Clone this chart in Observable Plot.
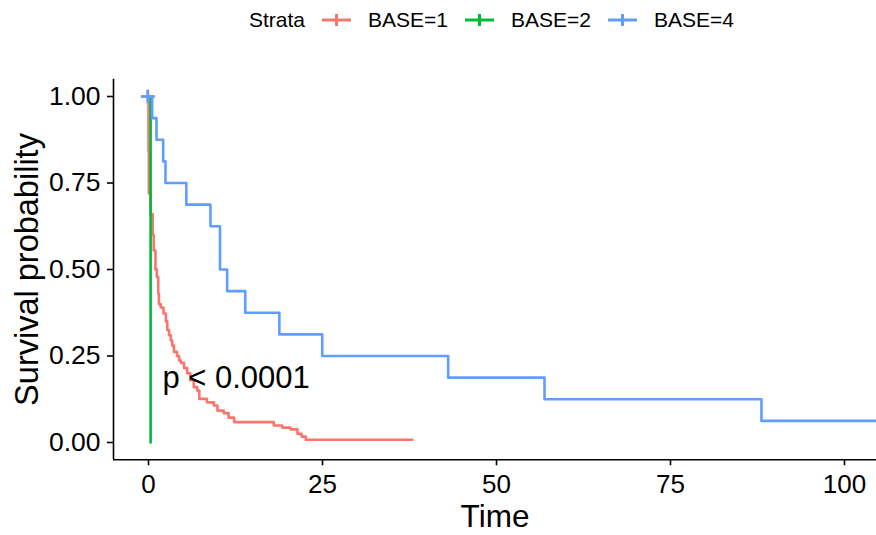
<!DOCTYPE html>
<html><head><meta charset="utf-8">
<script src="https://cdn.jsdelivr.net/npm/d3@7"></script>
<script src="https://cdn.jsdelivr.net/npm/@observablehq/plot@0.6"></script>
<style>
body{margin:0;background:#fff;font-family:"Liberation Sans",Arial,sans-serif;}
#wrap{position:relative;width:876px;height:535px;overflow:hidden;background:#fff;}
#legend{position:absolute;left:249px;top:0;height:40px;display:flex;align-items:center;gap:17px;font-size:21px;color:#000;white-space:nowrap;}
#chart{position:absolute;left:0;top:40px;}
</style></head><body>
<div id="wrap"><div id="legend"></div><div id="chart"></div></div>
<script>
const legendTitle = "Strata";
const strata = ["BASE=1", "BASE=2", "BASE=4"];
const colors = ["#F8766D", "#00BA38", "#619CFF"];

const timeBase1 = [0, 0, 0.05, 0.3, 0.6, 0.75, 1.0, 1.2, 1.4, 1.5, 1.75, 2.15, 2.5, 2.7, 2.95, 3.2, 3.4, 3.65, 4.1, 4.4, 4.65, 5.1, 5.56, 6.0, 6.5, 7.0, 7.3, 8.4, 9.4, 9.9, 10.8, 11.5, 12.3, 18.0, 19.2, 20.4, 21.4, 22.0, 22.6, 37.9];
const survBase1 = [1, 0.84, 0.72, 0.66, 0.60, 0.555, 0.50, 0.478, 0.43, 0.40, 0.39, 0.373, 0.35, 0.325, 0.31, 0.295, 0.28, 0.262, 0.25, 0.237, 0.23, 0.215, 0.20, 0.18, 0.16, 0.15, 0.126, 0.116, 0.107, 0.092, 0.085, 0.072, 0.059, 0.049, 0.043, 0.038, 0.025, 0.017, 0.008, 0.008];

const timeBase2 = [0, 0.3, 0.3];
const survBase2 = [1, 1, 0];

const timeBase4 = [0, 0.53, 1.15, 2.11, 2.44, 5.43, 8.9, 10.27, 11.3, 13.9, 18.8, 24.96, 43.06, 56.9, 88.07, 106];
const survBase4 = [1, 0.9375, 0.875, 0.8125, 0.75, 0.6875, 0.625, 0.5, 0.4375, 0.375, 0.3125, 0.25, 0.1875, 0.125, 0.0625, 0.0625];

const censorStrata = ["BASE=1", "BASE=4"];
const censorTime = [-0.1, -0.1];
const censorSurv = [1, 1];

const xTicks = [0, 25, 50, 75, 100];
const yTicks = [0, 0.25, 0.5, 0.75, 1];
const pLabel = "p < 0.0001";
const pTime = 2, pSurv = 0.185;
const xTitle = "Time", yTitle = "Survival probability";

const series = [[timeBase1, survBase1], [timeBase2, survBase2], [timeBase4, survBase4]];
const rows = [];
series.forEach(([t, s], i) => t.forEach((v, j) => rows.push({strata: strata[i], time: v, surv: s[j]})));
const censor = censorTime.map((t, i) => ({strata: censorStrata[i], time: t, surv: censorSurv[i]}));

// legend
const leg = document.getElementById("legend");
const ttl = document.createElement("span"); ttl.textContent = legendTitle; leg.appendChild(ttl);
strata.forEach((s, i) => {
  const ns = "http://www.w3.org/2000/svg";
  const svg = document.createElementNS(ns, "svg");
  svg.setAttribute("width", 29); svg.setAttribute("height", 20);
  svg.innerHTML = `<line x1="0" x2="29" y1="10" y2="10" stroke="${colors[i]}" stroke-width="3"/><line x1="14.5" x2="14.5" y1="4" y2="16" stroke="${colors[i]}" stroke-width="3"/>`;
  leg.appendChild(svg);
  const sp = document.createElement("span"); sp.textContent = s; leg.appendChild(sp);
});

const x0 = -5.03, x1 = 104.6, y0 = -0.05, y1 = 1.05;
const plot = Plot.plot({
  width: 876, height: 495,
  marginLeft: 113, marginRight: 0, marginTop: 38.7, marginBottom: 75.7,
  style: {fontFamily: "'Liberation Sans', Arial, sans-serif", background: "#fff", color: "#000", overflow: "visible"},
  x: {domain: [x0, x1]},
  y: {domain: [y0, y1]},
  color: {domain: strata, range: colors},
  marks: [
    Plot.line(rows, {x: "time", y: "surv", z: "strata", stroke: "strata", curve: "step-after", strokeWidth: 2.6, clip: true}),
    Plot.dot(censor, {x: "time", y: "surv", stroke: "strata", symbol: "plus", r: 4.5, strokeWidth: 2.6}),
    Plot.text([pLabel], {x: () => pTime, y: () => pSurv, text: d => d, textAnchor: "start", fontSize: 31, fill: "#000"}),
    Plot.ruleX([x0], {stroke: "#000", strokeWidth: 1.6}),
    Plot.ruleY([y0], {stroke: "#000", strokeWidth: 1.6}),
    Plot.axisX({ticks: xTicks, tickFormat: d => String(d), tickSize: 6, tickPadding: 9, fontSize: 26, label: null, strokeWidth: 1.6}),
    Plot.axisY({ticks: yTicks, tickFormat: d3.format(".2f"), tickSize: 6, tickPadding: 7, fontSize: 26.5, label: null, strokeWidth: 1.6}),
    Plot.text([xTitle], {frameAnchor: "bottom", dy: 67, text: d => d, fontSize: 31.5, fill: "#000"}),
    Plot.text([yTitle], {frameAnchor: "left", textAnchor: "middle", dx: -86, rotate: -90, text: d => d, fontSize: 32.5, fill: "#000"})
  ]
});
document.getElementById("chart").appendChild(plot);
</script>
</body></html>
